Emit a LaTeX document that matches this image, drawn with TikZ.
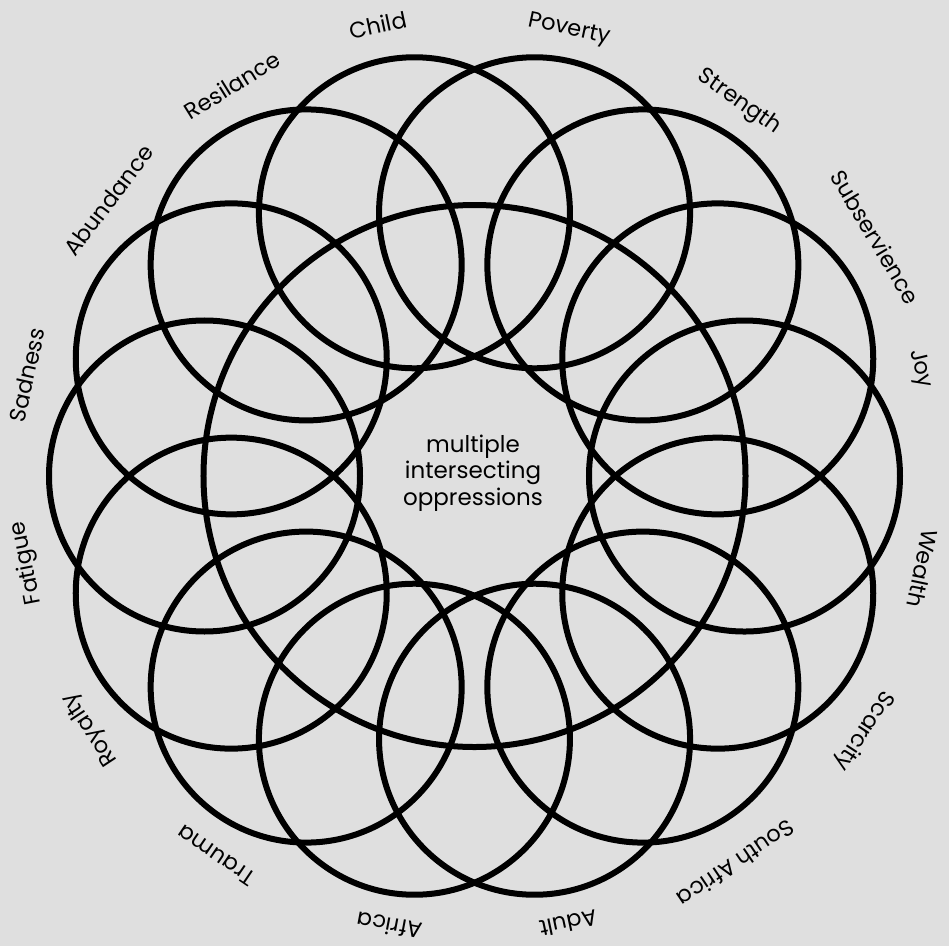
\documentclass[tikz,border=0pt]{standalone}
\usepackage{fontspec}
\setmainfont{Poppins}
\definecolor{paper}{RGB}{223,223,223}

\begin{document}
\begin{tikzpicture}[x=1pt,y=1pt,
        ring/.style={draw=black,line width=6pt},
        lbl/.style={font=\fontsize{22.5}{26}\selectfont,inner sep=0pt,anchor=center},
        hubtext/.style={align=center,font=\fontsize{23}{26.5}\selectfont,inner sep=0pt}]
    \fill[paper] (-474.5,-470) rectangle (474.5,476);
    \useasboundingbox (-474.5,-470) rectangle (474.5,476);
    % big ring in the middle
    \draw[ring] (0,0) circle[radius=271];
    % fourteen small rings round it
    \foreach \k in {0,...,13}
        \draw[ring] ({77.143+\k*25.714}:270) circle[radius=155.5];
    % words round the outside
    \foreach \t/\ang/\rad [count=\i] in {Child/-12.1/461, Poverty/12/456,
            Strength/35.3/458, Subservience/59.2/467, Joy/76.5/458,
            Wealth/101.7/458, Scarcity/123.2/465, South Africa/146/468,
            Adult/168.1/457, Africa/190.7/458, Trauma/214.2/459,
            Royalty/236.6/460, Fatigue/259/456, Sadness/282.7/459,
            Abundance/307/458, Resilance/328.2/460}
        \node[lbl,rotate=-\ang] (word\i) at ({90-\ang}:\rad) {\t};
    \node[hubtext] (hub) at (-1.5,3) {multiple\\intersecting\\oppressions};
\end{tikzpicture}
\end{document}
